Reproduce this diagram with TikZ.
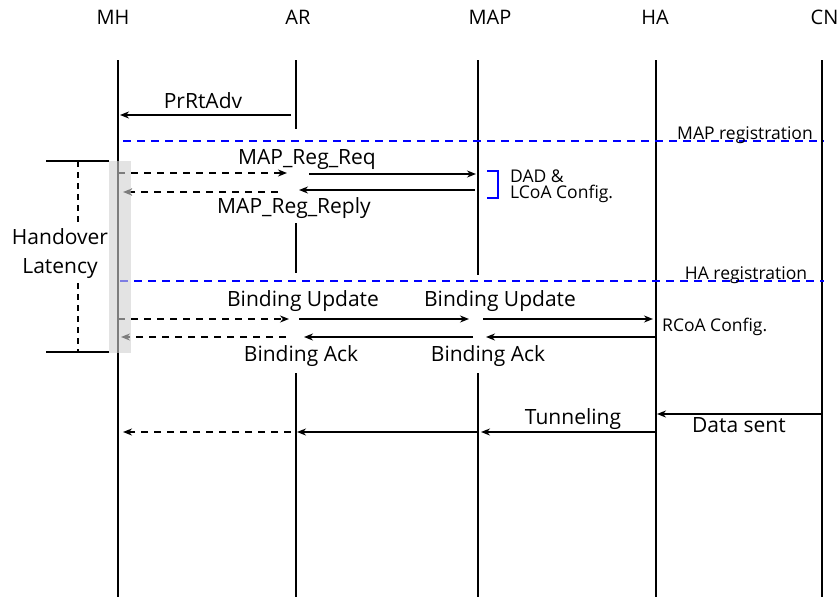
\documentclass[tikz,border=0pt]{standalone}
\usepackage{fontspec}
\setmainfont{Open Sans}
\usetikzlibrary{arrows.meta}
\begin{document}
\begin{tikzpicture}[x=1pt,y=-1pt,
  life/.style={line width=1.8pt},
  msg/.style={line width=1.6pt,-{Stealth[length=9pt,width=7pt]}},
  dmsg/.style={msg,dash pattern=on 7pt off 6pt},
  phase/.style={blue,line width=1.5pt,dash pattern=on 8pt off 6pt},
  head/.style={font=\fontsize{20}{22}\selectfont,inner sep=0pt},
  big/.style={font=\fontsize{21}{29}\selectfont,inner sep=0pt},
  small/.style={font=\fontsize{17.5}{16}\selectfont,inner sep=0pt}]
\useasboundingbox (0,0) rectangle (839,597);

% entity headers
\node[head,anchor=base] (hMH)  at (113,24) {MH};
\node[head,anchor=base] (hAR)  at (298,24) {AR};
\node[head,anchor=base] (hMAP) at (490,24) {MAP};
\node[head,anchor=base] (hHA)  at (655,24) {HA};
\node[head,anchor=base] (hCN)  at (824.5,24) {CN};

% lifeline end points
\coordinate (MH0) at (118,60);  \coordinate (MH1) at (118,597);
\coordinate (AR0) at (296,60);  \coordinate (AR1) at (296,129);
\coordinate (AR2) at (296,223); \coordinate (AR3) at (296,273);
\coordinate (AR4) at (296,373); \coordinate (AR5) at (296,597);
\coordinate (MAP0) at (478,60); \coordinate (MAP1) at (478,275);
\coordinate (MAP2) at (478,373);\coordinate (MAP3) at (478,597);
\coordinate (HA0) at (656,60);  \coordinate (HA1) at (656,597);
\coordinate (CN0) at (822,60);  \coordinate (CN1) at (822,597);

\draw[life] (MH0) -- (MH1);
\draw[life] (AR0) -- (AR1) (AR2) -- (AR3) (AR4) -- (AR5);
\draw[life] (MAP0) -- (MAP1) (MAP2) -- (MAP3);
\draw[life] (HA0) -- (HA1);
\draw[life] (CN0) -- (CN1);

% router advertisement
\coordinate (adv0) at (291,115); \coordinate (adv1) at (120,115);
\draw[msg] (adv0) -- (adv1);
\node[big,anchor=base] (lAdv) at (203,108) {PrRtAdv};

% phase separators
\coordinate (mr0) at (123,141); \coordinate (mr1) at (824,141);
\draw[phase] (mr0) -- (mr1);
\node[small,anchor=base] (lMR) at (745,139) {MAP registration};
\coordinate (hr0) at (120,281); \coordinate (hr1) at (824,281);
\draw[phase,line width=1.1pt] (hr0) -- (hr1);
\node[small,anchor=base] (lHR) at (746,279) {HA registration};

% MAP registration exchange
\coordinate (rq0) at (118,173); \coordinate (rq1) at (287,173);
\coordinate (rq2) at (309,174); \coordinate (rq3) at (476,174);
\draw[dmsg] (rq0) -- (rq1);
\draw[msg] (rq2) -- (rq3);
\node[big,anchor=base] (lReq) at (307,164) {MAP\_Reg\_Req};
\coordinate (rp0) at (475,190); \coordinate (rp1) at (299,190);
\coordinate (rp2) at (278,192); \coordinate (rp3) at (123,192);
\draw[msg] (rp0) -- (rp1);
\draw[dmsg] (rp2) -- (rp3);
\node[big,anchor=base] (lRep) at (294,213) {MAP\_Reg\_Reply};

% DAD bracket
\coordinate (br0) at (487,171); \coordinate (br1) at (498,171);
\coordinate (br2) at (498,198); \coordinate (br3) at (487,198);
\draw[blue,line width=1.6pt] (br0) -- (br1) -- (br2) -- (br3);
\node[small,anchor=base west,align=left] (lDad) at (510,198) {DAD \&\\LCoA Config.};

% binding update
\coordinate (bu0) at (118,319); \coordinate (bu1) at (289,319);
\coordinate (bu2) at (299,319); \coordinate (bu3) at (469,319);
\coordinate (bu4) at (483,319); \coordinate (bu5) at (653,319);
\draw[dmsg] (bu0) -- (bu1);
\draw[msg] (bu2) -- (bu3);
\draw[msg] (bu4) -- (bu5);
\node[big,anchor=base] (lBU1) at (303,306) {Binding Update};
\node[big,anchor=base] (lBU2) at (500,306) {Binding Update};
\node[small,anchor=base west] (lRC) at (662,331) {RCoA Config.};

% binding acknowledgement
\coordinate (ba0) at (656,337); \coordinate (ba1) at (486,337);
\coordinate (ba2) at (473,337); \coordinate (ba3) at (304,337);
\coordinate (ba4) at (286,337); \coordinate (ba5) at (121,337);
\draw[msg] (ba0) -- (ba1);
\draw[msg] (ba2) -- (ba3);
\draw[dmsg] (ba4) -- (ba5);
\node[big,anchor=base] (lBA1) at (301,361) {Binding Ack};
\node[big,anchor=base] (lBA2) at (488,361) {Binding Ack};

% data delivery
\coordinate (ds0) at (822,414); \coordinate (ds1) at (657,414);
\draw[msg] (ds0) -- (ds1);
\node[big,anchor=base] (lDS) at (739,432) {Data sent};
\coordinate (tn0) at (656,432); \coordinate (tn1) at (481,432);
\coordinate (tn2) at (478,432); \coordinate (tn3) at (297,432);
\coordinate (tn4) at (291,432); \coordinate (tn5) at (123,432);
\draw[msg] (tn0) -- (tn1);
\draw[msg] (tn2) -- (tn3);
\draw[dmsg] (tn4) -- (tn5);
\node[big,anchor=base] (lTn) at (573,424) {Tunneling};

% handover latency span
\coordinate (hl0) at (46,161); \coordinate (hl1) at (109,161);
\coordinate (hl2) at (46,352); \coordinate (hl3) at (109,352);
\draw[line width=1.6pt] (hl0) -- (hl1) (hl2) -- (hl3);
\node[big,align=center,inner sep=4pt] (lHL) at (60,254) {Handover\\Latency};
\coordinate (hv0) at (78,161); \coordinate (hv1) at (78,352);
\draw[line width=1.2pt,dash pattern=on 6pt off 5pt] (hv0) -- (hv0 |- lHL.north);
\draw[line width=1.2pt,dash pattern=on 6pt off 5pt] (hv1 |- lHL.south) -- (hv1);

% shaded handover interval on the MH lifeline
\coordinate (sh0) at (109,161); \coordinate (sh1) at (131,353);
\fill[black!18,opacity=0.6] (sh0) rectangle (sh1);
\end{tikzpicture}
\end{document}
